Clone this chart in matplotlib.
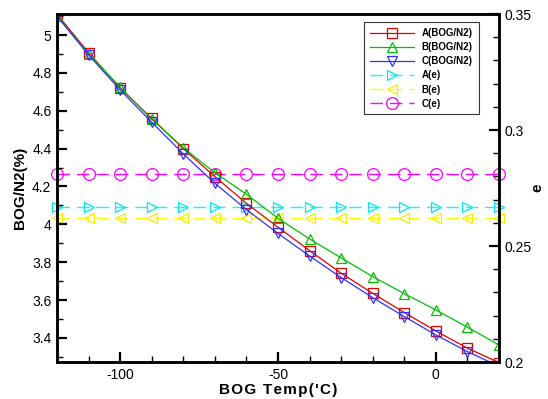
import matplotlib
matplotlib.use("Agg")
import matplotlib.pyplot as plt
from matplotlib.ticker import MultipleLocator

plt.rcParams['font.family'] = ['Liberation Sans', 'DejaVu Sans']
plt.rcParams['axes.unicode_minus'] = False

temps = [-120, -110, -100, -90, -80, -70, -60, -50, -40, -30, -20, -10, 0, 10, 20]
a_bog = [5.11, 4.907, 4.72, 4.56, 4.40, 4.252, 4.111, 3.985, 3.861, 3.742, 3.636, 3.534, 3.437, 3.346, 3.27]
b_bog = [5.10, 4.90, 4.725, 4.555, 4.405, 4.273, 4.159, 4.032, 3.923, 3.823, 3.724, 3.634, 3.548, 3.457, 3.363]
c_bog = [5.10, 4.895, 4.71, 4.54, 4.372, 4.217, 4.078, 3.952, 3.833, 3.719, 3.613, 3.513, 3.416, 3.328, 3.25]
a_e = [0.267] * 15
b_e = [0.262] * 15
c_e = [0.281] * 15

fig = plt.figure(figsize=(5.48, 3.99), dpi=100)
ax = fig.add_axes([0.104, 0.0927, 0.8066, 0.8722])
ax2 = ax.twinx()

ms = 6.5
l1, = ax.plot(temps, a_bog, color='#e00000', lw=0.9, marker='s', ms=ms, mfc='none', mec='#e00000', mew=0.9, label='A(BOG/N2)')
l2, = ax.plot(temps, b_bog, color='#00c000', lw=0.9, marker='^', ms=ms+1, mfc='none', mec='#00c000', mew=0.9, label='B(BOG/N2)')
l3, = ax.plot(temps, c_bog, color='#3030ff', lw=0.9, marker='v', ms=ms+1, mfc='none', mec='#3030ff', mew=0.9, label='C(BOG/N2)')

dash = (0, (9, 5))
l4, = ax2.plot(temps, a_e, color='#00ffff', lw=1.0, ls=dash, marker='>', ms=ms+1, mfc='none', mec='#00e8f0', mew=0.9, label='A(e)')
l5, = ax2.plot(temps, b_e, color='#ffff00', lw=1.0, ls=dash, marker='<', ms=ms+1, mfc='none', mec='#f0f000', mew=0.9, label='B(e)')
l6, = ax2.plot(temps, c_e, color='#ff00ff', lw=1.0, ls=dash, marker='o', ms=ms+2, mfc='none', mec='#ff00ff', mew=0.9, label='C(e)')
for l in (l4, l5, l6):
    l.set_clip_on(False)

ax.set_xlim(-120, 20)
ax.set_ylim(3.273, 5.111)
ax2.set_ylim(0.2, 0.35)

ax.xaxis.set_major_locator(MultipleLocator(50))
ax.xaxis.set_minor_locator(MultipleLocator(10))
ax.yaxis.set_major_locator(MultipleLocator(0.2))
ax.yaxis.set_minor_locator(MultipleLocator(0.1))
ax2.yaxis.set_major_locator(MultipleLocator(0.05))
ax2.yaxis.set_minor_locator(MultipleLocator(0.01))

ax.tick_params(axis='both', which='major', direction='in', length=7, width=1.6, labelsize=10, pad=4)
ax.tick_params(axis='both', which='minor', direction='in', length=4, width=1.0)
ax.tick_params(top=False, which='both')
ax.tick_params(right=False, which='both')
ax2.tick_params(axis='y', which='major', direction='in', length=7, width=1.6, labelsize=10, pad=4)
ax2.tick_params(axis='y', which='minor', direction='in', length=4, width=1.0)

ax.set_yticks([3.4, 3.6, 3.8, 4.0, 4.2, 4.4, 4.6, 4.8, 5.0])
ax.set_yticklabels(['3.4', '3.6', '3.8', '4', '4.2', '4.4', '4.6', '4.8', '5'])
ax2.set_yticks([0.2, 0.25, 0.3, 0.35])
ax2.set_yticklabels(['0.2', '0.25', '0.3', '0.35'])

for a in (ax, ax2):
    for s in a.spines.values():
        s.set_linewidth(1.8)
        s.set_color('black')

hs = '\u200a'
ax.set_xlabel(hs.join("BOG Temp('C)"), fontsize=11, fontweight='bold', labelpad=1)
ax.set_ylabel("BOG/N2(%)", fontsize=11, fontweight='bold', labelpad=4)
fig.text(0.981, 0.529, "e", fontsize=11, fontweight='bold', rotation=90, ha='center', va='center')

leg = ax.legend(handles=[l1, l2, l3, l4, l5, l6],
                labels=['A(BOG/N2)', 'B(BOG/N2)', 'C(BOG/N2)', 'A(e)', 'B(e)', 'C(e)'],
                loc='upper right', bbox_to_anchor=(0.965, 0.99),
                prop={'weight': 'bold', 'size': 7}, frameon=True, fancybox=False,
                edgecolor='black', handlelength=4.5, labelspacing=0.42, borderpad=0.6)
leg.get_frame().set_linewidth(0.8)
leg.set_zorder(10)
ax.set_zorder(ax2.get_zorder() + 1)
ax.patch.set_visible(False)

fig.savefig('out.png', dpi=100)
